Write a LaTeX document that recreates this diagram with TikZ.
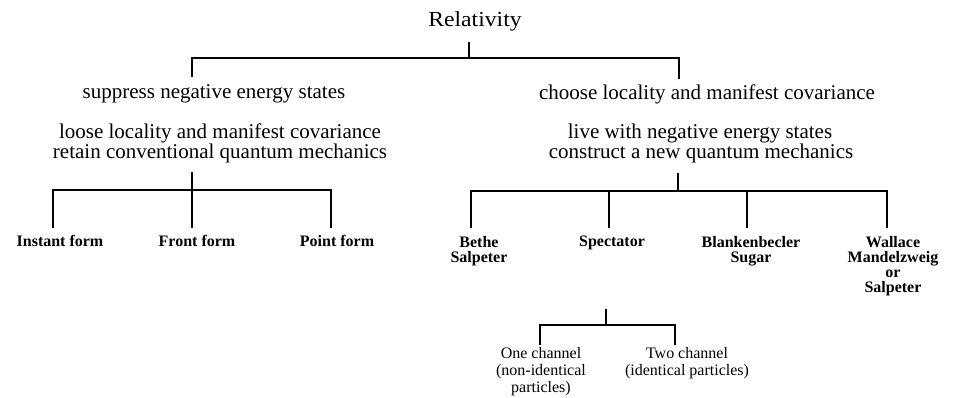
\documentclass[tikz,border=0pt]{standalone}
\usepackage{fontspec}
\setmainfont{Liberation Serif}
\newfontfamily\relfont[FakeStretch=1.1]{Liberation Serif}
\begin{document}
\begin{tikzpicture}[x=1pt,y=-1pt,
  conn/.style={line width=1.5pt, line cap=butt},
  toptext/.style={font=\relfont\fontsize{21.5}{22}\selectfont, inner sep=0pt, anchor=base},
  bodytext/.style={font=\fontsize{21}{20}\selectfont, inner sep=0pt, anchor=base},
  leaflabel/.style={font=\fontsize{16}{15}\selectfont\bfseries, inner sep=0pt, anchor=base, align=center},
  sublabel/.style={font=\fontsize{16}{17}\selectfont, inner sep=0pt, anchor=base, align=center}]
\useasboundingbox (0,0) rectangle (961,398);

% texts (multi-line nodes: base anchor = baseline of last line)
\node[toptext] (rel) at (475,27) {Relativity};
\node[bodytext] (supp) at (214,99) {suppress negative energy states};
\node[bodytext] (loose1) at (220,139) {loose locality and manifest covariance};
\node[bodytext] (loose2) at (220,159) {retain conventional quantum mechanics};
\node[bodytext] (choose) at (707,100) {choose locality and manifest covariance};
\node[bodytext] (live1) at (700,139) {live with negative energy states};
\node[bodytext] (live2) at (701,159) {construct a new quantum mechanics};

\node[leaflabel] (instant) at (60,247) {Instant form};
\node[leaflabel] (front) at (197,247) {Front form};
\node[leaflabel] (point) at (337,247) {Point form};
\node[leaflabel] (bethe) at (479,262) {Bethe\\Salpeter};
\node[leaflabel] (spect) at (612,247) {Spectator};
\node[leaflabel] (blank) at (751,262) {Blankenbecler\\Sugar};
\node[leaflabel] (wall) at (893,292) {Wallace\\Mandelzweig\\or\\Salpeter};

\node[sublabel] (one) at (541,392) {One channel\\(non-identical\\particles)};
\node[sublabel] (two) at (687,375) {Two channel\\(identical particles)};

% coordinates
\coordinate (r0) at (469,42);
\coordinate (r1) at (469,58);
\coordinate (rl) at (192,58);
\coordinate (rr) at (679,58);
\coordinate (rlb) at (192,77);
\coordinate (rrb) at (679,79);

\coordinate (l0) at (192,172);
\coordinate (l1) at (192,190);
\coordinate (la) at (53,190);
\coordinate (lc) at (331,190);
\coordinate (lab) at (53,228);
\coordinate (lbb) at (192,228);
\coordinate (lcb) at (331,228);

\coordinate (q0) at (678,173);
\coordinate (q1) at (678,191);
\coordinate (qa) at (471,191);
\coordinate (qb) at (609,191);
\coordinate (qc) at (747,191);
\coordinate (qd) at (887,191);
\coordinate (qab) at (471,228);
\coordinate (qbb) at (609,228);
\coordinate (qcb) at (747,228);
\coordinate (qdb) at (887,228);

\coordinate (s0) at (606,309);
\coordinate (s1) at (606,325);
\coordinate (sa) at (540,325);
\coordinate (sb) at (675,325);
\coordinate (sab) at (540,345);
\coordinate (sbb) at (675,345);

% connectors
\draw[conn] (r0) -- (r1);
\draw[conn] (rlb) -- (rl) -- (rr) -- (rrb);

\draw[conn] (l0) -- (l1);
\draw[conn] (lab) -- (la) -- (lc) -- (lcb);
\draw[conn] (l1) -- (lbb);

\draw[conn] (q0) -- (q1);
\draw[conn] (qab) -- (qa) -- (qd) -- (qdb);
\draw[conn] (qb) -- (qbb);
\draw[conn] (qc) -- (qcb);

\draw[conn] (s0) -- (s1);
\draw[conn] (sab) -- (sa) -- (sb) -- (sbb);
\end{tikzpicture}
\end{document}
